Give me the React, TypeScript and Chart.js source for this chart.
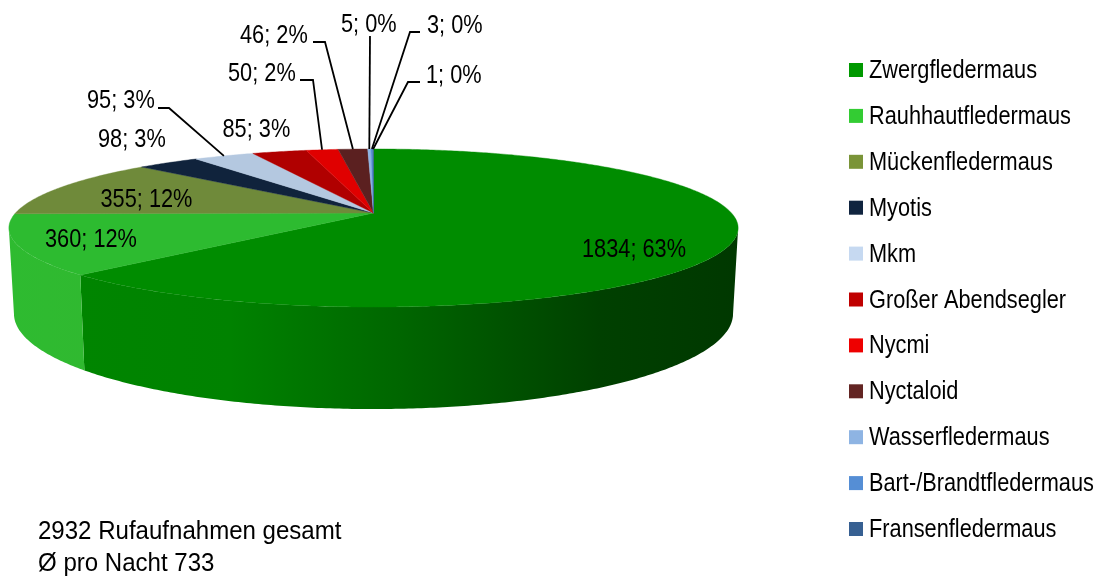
import React, { useEffect, useRef } from "react";
import { Chart, ArcElement, PieController } from "chart.js";

// Recorded bat calls per species group
const species = [
  "Zwergfledermaus",
  "Rauhhautfledermaus",
  "Mückenfledermaus",
  "Myotis",
  "Mkm",
  "Großer Abendsegler",
  "Nycmi",
  "Nyctaloid",
  "Wasserfledermaus",
  "Bart-/Brandtfledermaus",
  "Fransenfledermaus",
];
const calls = [1834, 360, 355, 98, 95, 85, 50, 46, 5, 3, 1];

const legendColors = ["#009900", "#33cc33", "#7a9438", "#10243f", "#c6d9f1", "#c00000", "#ee0000", "#632523", "#8eb4e3", "#558ed5", "#376092"];
const faceColors = ["#008c00", "#2dbb30", "#6f8a3a", "#10233c", "#b4c8e0", "#b00000", "#e00000", "#5b2020", "#8eb4e3", "#558ed5", "#376092"];

const summaryLines = ["2932 Rufaufnahmen gesamt", "Ø pro Nacht 733"];

// Label baseline positions, with an optional leader start and elbow
type Placement = { x: number; y: number; leader?: [number, number, number, number] };
const labelPlacement: Placement[] = [
  { x: 582, y: 257 },
  { x: 45, y: 247 },
  { x: 100.5, y: 207 },
  { x: 98, y: 147 },
  { x: 87, y: 108, leader: [158, 108, 169, 108] },
  { x: 222.5, y: 137 },
  { x: 228, y: 81, leader: [300, 80, 313, 80] },
  { x: 240, y: 43, leader: [313, 42, 325, 42] },
  { x: 341, y: 32, leader: [370, 36, 370, 36] },
  { x: 427, y: 33, leader: [420, 32, 410, 32] },
  { x: 426, y: 83, leader: [420, 82, 408, 82] },
];

// Perspective pie geometry
const view = { cx: 373.5, cy: 213, radiusX: 358, radiusY: 76.2, tilt: 0.19, depth: 82.6, shrink: 0.986 };
const textStyle = { font: '25.5px "Liberation Sans", Arial, sans-serif', squeeze: 0.853, summarySqueeze: 0.943 };

// Horizontal shading of the outer wall, one set of stops per slice
const wallShades: Record<number, [number, string][]> = {
  0: [[80, "#008500"], [230, "#008200"], [400, "#006600"], [600, "#004000"], [739, "#003800"]],
  1: [[8, "#2ebb30"], [85, "#30b930"]],
};

const rim = (theta: number) => {
  const u = Math.sin(theta);
  const v = -Math.cos(theta);
  const k = 1 / (1 - view.tilt * v);
  return { x: view.cx + view.radiusX * u * k, y: view.cy + view.radiusY * v * k, k };
};

const lowerRim = (theta: number) => {
  const p = rim(theta);
  return { x: view.cx + (p.x - view.cx) * view.shrink, y: p.y + view.depth * p.k };
};

// Chart.js angles start at -90°; theta is measured clockwise from the top
const toTheta = (angle: number) => angle + Math.PI / 2;

class PerspectiveArc extends ArcElement {
  static id = "perspectiveArc";
  draw(ctx: CanvasRenderingContext2D) {
    const { startAngle, endAngle } = this.getProps(["startAngle", "endAngle"], true) as any;
    const from = toTheta(startAngle);
    const to = toTheta(endAngle);
    const color = (this as any).options.backgroundColor;
    const steps = Math.max(2, Math.ceil((to - from) / 0.01));
    ctx.save();
    ctx.beginPath();
    ctx.moveTo(view.cx, view.cy);
    for (let i = 0; i <= steps; i++) {
      const p = rim(from + ((to - from) * i) / steps);
      ctx.lineTo(p.x, p.y);
    }
    ctx.closePath();
    ctx.fillStyle = color;
    ctx.fill();
    ctx.strokeStyle = color;
    ctx.lineWidth = 0.4;
    ctx.stroke();
    ctx.restore();
  }
}

class PerspectivePie extends PieController {
  static id = "perspectivePie";
  static defaults = { dataElementType: "perspectiveArc" };
}

const drawText = (ctx: CanvasRenderingContext2D, text: string, x: number, y: number, squeeze = textStyle.squeeze) => {
  ctx.save();
  ctx.translate(x, y);
  ctx.scale(squeeze, 1);
  ctx.font = textStyle.font;
  ctx.fillStyle = "#000000";
  ctx.textAlign = "left";
  ctx.textBaseline = "alphabetic";
  ctx.fillText(text, 0, 0);
  ctx.restore();
};

const wallPlugin = {
  id: "perspectiveWall",
  beforeDatasetsDraw(chart: any) {
    const { ctx } = chart;
    const edge = Math.acos(-view.tilt);
    chart.getDatasetMeta(0).data.forEach((arc: any, index: number) => {
      const stops = wallShades[index];
      if (!stops) return;
      const from = Math.max(toTheta(arc.startAngle), edge);
      const to = Math.min(toTheta(arc.endAngle), 2 * Math.PI - edge);
      if (to <= from) return;
      const x0 = stops[0][0];
      const x1 = stops[stops.length - 1][0];
      const gradient = ctx.createLinearGradient(x0, 0, x1, 0);
      stops.forEach(([x, c]) => gradient.addColorStop((x - x0) / (x1 - x0), c));
      const steps = Math.ceil((to - from) / 0.01);
      ctx.save();
      ctx.beginPath();
      for (let i = 0; i <= steps; i++) {
        const p = rim(from + ((to - from) * i) / steps);
        i ? ctx.lineTo(p.x, p.y) : ctx.moveTo(p.x, p.y);
      }
      for (let i = steps; i >= 0; i--) {
        const p = lowerRim(from + ((to - from) * i) / steps);
        ctx.lineTo(p.x, p.y);
      }
      ctx.closePath();
      ctx.fillStyle = gradient;
      ctx.fill();
      ctx.restore();
    });
  },
};

const annotationPlugin = {
  id: "sliceAnnotations",
  afterDatasetsDraw(chart: any) {
    const { ctx } = chart;
    const total = calls.reduce((a, b) => a + b, 0);

    // Value and share labels with their leader lines
    chart.getDatasetMeta(0).data.forEach((arc: any, index: number) => {
      const place = labelPlacement[index];
      if (place.leader) {
        const mid = toTheta((arc.startAngle + arc.endAngle) / 2);
        const end = rim(mid);
        const [sx, sy, ex, ey] = place.leader;
        ctx.save();
        ctx.beginPath();
        ctx.moveTo(sx, sy);
        ctx.lineTo(ex, ey);
        ctx.lineTo(end.x, end.y);
        ctx.strokeStyle = "#000000";
        ctx.lineWidth = 1.8;
        ctx.stroke();
        ctx.restore();
      }
      const share = Math.round((100 * calls[index]) / total);
      drawText(ctx, `${calls[index]}; ${share}%`, place.x, place.y);
    });

    // Species key on the right
    species.forEach((name, index) => {
      const rowY = 78 + index * 45.9;
      ctx.fillStyle = legendColors[index];
      ctx.fillRect(849, rowY - 15, 14, 14);
      drawText(ctx, name, 869, rowY);
    });

    // Totals below the pie
    drawText(ctx, summaryLines[0], 38, 538.5, textStyle.summarySqueeze);
    drawText(ctx, summaryLines[1], 38, 571, textStyle.summarySqueeze);
  },
};

Chart.register(PieController, ArcElement, PerspectiveArc, PerspectivePie);

export default function App() {
  const canvasRef = useRef<HTMLCanvasElement>(null);

  useEffect(() => {
    const chart = new Chart(canvasRef.current!, {
      type: "perspectivePie" as any,
      data: {
        labels: species,
        datasets: [{ data: calls, backgroundColor: faceColors, borderWidth: 0 }],
      },
      options: {
        responsive: false,
        animation: false,
        plugins: { legend: { display: false }, tooltip: { enabled: false } },
      } as any,
      plugins: [wallPlugin, annotationPlugin],
    });
    return () => chart.destroy();
  }, []);

  return (
    <div style={{ position: "fixed", left: 0, top: 0, width: 1105, height: 579, background: "#ffffff" }}>
      <canvas ref={canvasRef} width={1105} height={579} style={{ display: "block" }} />
    </div>
  );
}
